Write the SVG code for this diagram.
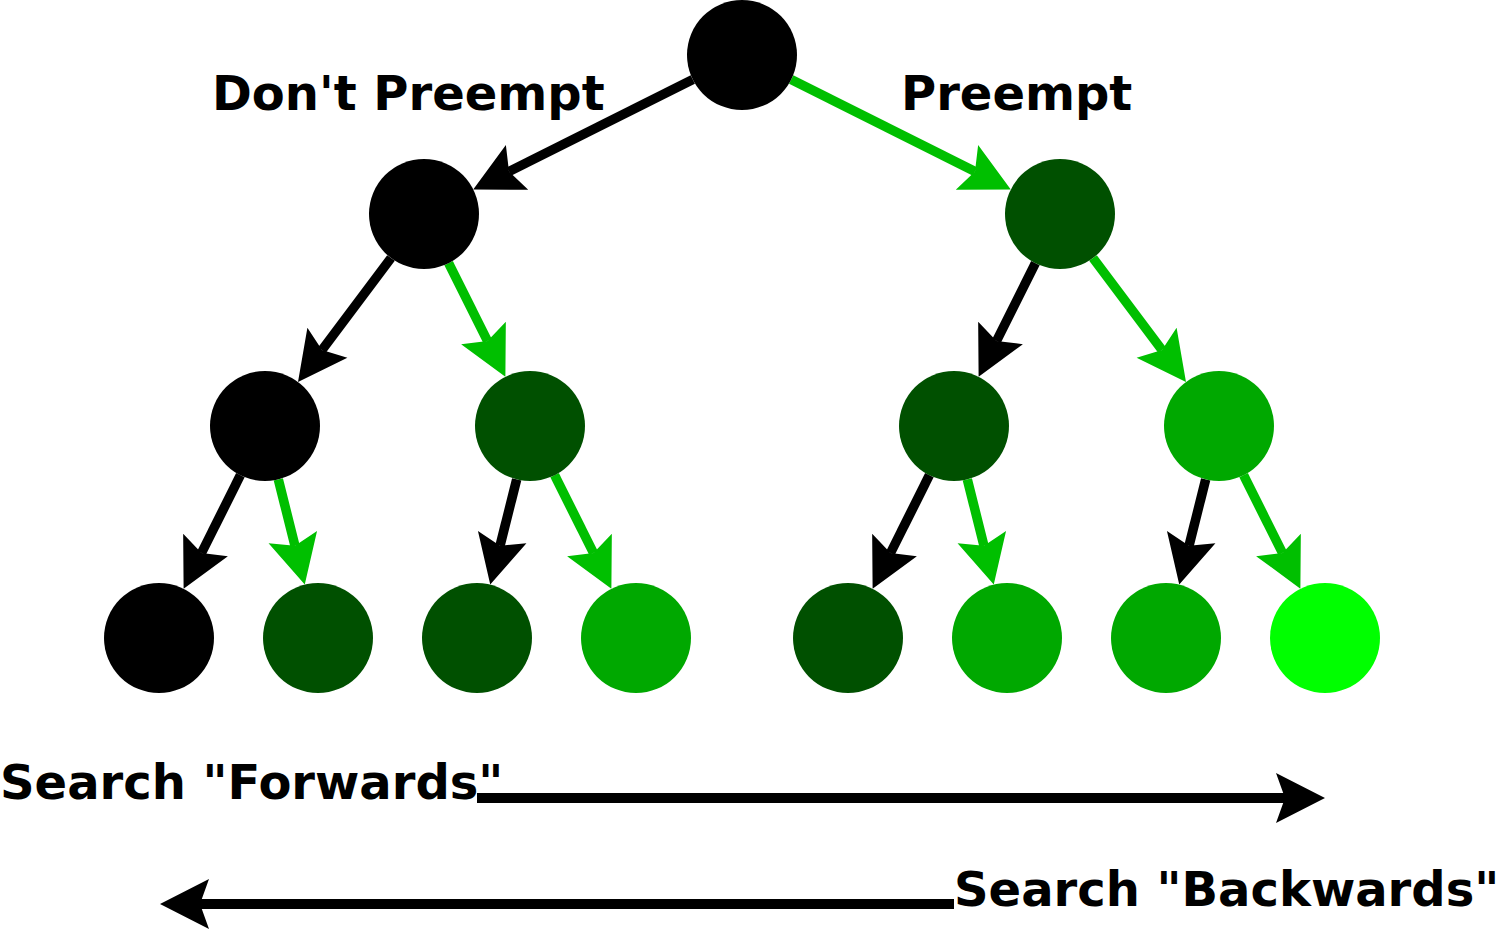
<svg xmlns="http://www.w3.org/2000/svg" width="1500" height="929" viewBox="0 0 1500 929">
<style>
.lbl{font-family:"DejaVu Sans",sans-serif;font-weight:bold;font-size:48px;fill:#000}
.e{fill:none;stroke-width:9.5}
.k{stroke:#000}
.g{stroke:#00BF00}
.n0{fill:#000}
.n1{fill:#005000}
.n2{fill:#00A800}
.n3{fill:#00FF00}
</style>
<defs>
<marker id="ak" markerUnits="userSpaceOnUse" viewBox="-10 -26 52 52" refX="0" refY="0" markerWidth="52" markerHeight="52" orient="auto" overflow="visible">
<path d="M40,0 L-9,-25 L0,0 L-9,25 Z" fill="#000"/>
</marker>
<marker id="ag" markerUnits="userSpaceOnUse" viewBox="-10 -26 52 52" refX="0" refY="0" markerWidth="52" markerHeight="52" orient="auto" overflow="visible">
<path d="M40,0 L-9,-25 L0,0 L-9,25 Z" fill="#00BF00"/>
</marker>
</defs>
<rect width="1500" height="929" fill="#fff"/>
<g id="connectors">
<line class="e k" x1="692.8" y1="79.6" x2="509.0" y2="171.5" marker-end="url(#ak)"/>
<line class="e g" x1="791.2" y1="79.6" x2="975.0" y2="171.5" marker-end="url(#ag)"/>
<line class="e k" x1="391" y1="258" x2="322" y2="350" marker-end="url(#ak)"/>
<line class="e g" x1="448.6" y1="263.2" x2="487.5" y2="341.0" marker-end="url(#ag)"/>
<line class="e k" x1="1035.4" y1="263.2" x2="996.5" y2="341.0" marker-end="url(#ak)"/>
<line class="e g" x1="1093" y1="258" x2="1162" y2="350" marker-end="url(#ag)"/>
<line class="e k" x1="240.4" y1="475.2" x2="201.5" y2="553.0" marker-end="url(#ak)"/>
<line class="e g" x1="278.3" y1="479.4" x2="295.0" y2="545.8" marker-end="url(#ag)"/>
<line class="e k" x1="516.7" y1="479.4" x2="500.0" y2="545.8" marker-end="url(#ak)"/>
<line class="e g" x1="554.6" y1="475.2" x2="593.5" y2="553.0" marker-end="url(#ag)"/>
<line class="e k" x1="929.4" y1="475.2" x2="890.5" y2="553.0" marker-end="url(#ak)"/>
<line class="e g" x1="967.3" y1="479.4" x2="984.0" y2="545.8" marker-end="url(#ag)"/>
<line class="e k" x1="1205.7" y1="479.4" x2="1189.0" y2="545.8" marker-end="url(#ak)"/>
<line class="e g" x1="1243.6" y1="475.2" x2="1282.5" y2="553.0" marker-end="url(#ag)"/>
<line class="k" stroke-width="10" x1="477" y1="798" x2="1285" y2="798" marker-end="url(#ak)"/>
<line class="k" stroke-width="10" x1="954" y1="904" x2="200" y2="904" marker-end="url(#ak)"/>
</g>
<g id="root"><circle class="n0" cx="742" cy="55" r="55"/></g>
<g id="l1a"><circle class="n0" cx="424" cy="214" r="55"/></g>
<g id="l1b"><circle class="n1" cx="1060" cy="214" r="55"/></g>
<g id="l2a"><circle class="n0" cx="265" cy="426" r="55"/></g>
<g id="l2b"><circle class="n1" cx="530" cy="426" r="55"/></g>
<g id="l2c"><circle class="n1" cx="954" cy="426" r="55"/></g>
<g id="l2d"><circle class="n2" cx="1219" cy="426" r="55"/></g>
<g id="l3a"><circle class="n0" cx="159" cy="638" r="55"/></g>
<g id="l3b"><circle class="n1" cx="318" cy="638" r="55"/></g>
<g id="l3c"><circle class="n1" cx="477" cy="638" r="55"/></g>
<g id="l3d"><circle class="n2" cx="636" cy="638" r="55"/></g>
<g id="l3e"><circle class="n1" cx="848" cy="638" r="55"/></g>
<g id="l3f"><circle class="n2" cx="1007" cy="638" r="55"/></g>
<g id="l3g"><circle class="n2" cx="1166" cy="638" r="55"/></g>
<g id="l3h"><circle class="n3" cx="1325" cy="638" r="55"/></g>
<g id="labels">
<text class="lbl" x="212" y="110">Don't Preempt</text>
<text class="lbl" x="901" y="110">Preempt</text>
<text class="lbl" x="0" y="799">Search "Forwards"</text>
<text class="lbl" x="954" y="906">Search "Backwards"</text>
</g>
</svg>
